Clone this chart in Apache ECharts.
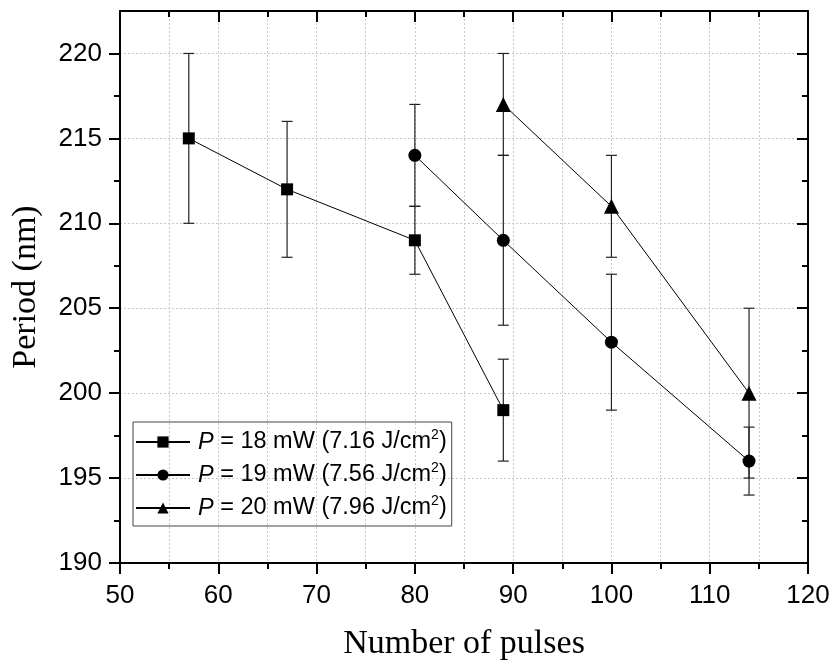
<!DOCTYPE html>
<html><head><meta charset="utf-8">
<script src="https://cdn.jsdelivr.net/npm/echarts@6/dist/echarts.min.js"></script>
<style>html,body{margin:0;padding:0;background:#fff}#c{width:833px;height:666px}</style>
</head><body><div id="c"></div>
<script>
// ---- data ----
const seriesNames = ['P = 18 mW (7.16 J/cm2)', 'P = 19 mW (7.56 J/cm2)', 'P = 20 mW (7.96 J/cm2)'];
const powers = ['18', '19', '20'];
const fluences = ['7.16', '7.56', '7.96'];
const pulses18 = [57, 67, 80, 89];
const period18 = [215, 212, 209, 199];
const low18 = [210, 208, 207, 196];
const high18 = [220, 216, 211, 202];
const pulses19 = [80, 89, 100, 114];
const period19 = [214, 209, 203, 196];
const low19 = [211, 204, 199, 194];
const high19 = [217, 214, 207, 198];
const pulses20 = [89, 100, 114];
const period20 = [217, 211, 200];
const low20 = [214, 208, 195];
const high20 = [220, 214, 205];
const xMajor = [50, 60, 70, 80, 90, 100, 110, 120];
const yMajor = [190, 195, 200, 205, 210, 215, 220];
const yMinor = [192.5, 197.5, 202.5, 207.5, 212.5, 217.5];

const pts = (xs, ys) => xs.map((x, i) => [x, ys[i]]);
const errs = (xs, lo, hi) => xs.map((x, i) => [x, lo[i], hi[i]]);

const chart = echarts.init(document.getElementById('c'), null, {renderer: 'canvas'});
const labelFont = {fontFamily: 'Liberation Sans', fontSize: 26, color: '#000'};
const gridLine = {show: true, lineStyle: {color: '#c8c8c8', width: 1, type: [2, 2]}};

function errRender(params, api) {
  const x = api.value(0);
  const lo = api.coord([x, api.value(1)]);
  const hi = api.coord([x, api.value(2)]);
  const w = 5.5;
  const st = {stroke: '#222', lineWidth: 1.2};
  return {type: 'group', children: [
    {type: 'line', shape: {x1: lo[0], y1: lo[1], x2: hi[0], y2: hi[1]}, style: st},
    {type: 'line', shape: {x1: lo[0] - w, y1: lo[1], x2: lo[0] + w, y2: lo[1]}, style: st},
    {type: 'line', shape: {x1: hi[0] - w, y1: hi[1], x2: hi[0] + w, y2: hi[1]}, style: st}
  ]};
}
function errSeries(data) {
  return {type: 'custom', renderItem: errRender, data: data, z: 1, silent: true,
    encode: {x: 0, y: [1, 2]}, xAxisIndex: 0, yAxisIndex: 0};
}
function lineSeries(name, data, symbol, size) {
  return {type: 'line', name: name, data: data, symbol: symbol, symbolSize: size,
    showAllSymbol: true, itemStyle: {color: '#000'}, lineStyle: {color: '#000', width: 1},
    z: 3, xAxisIndex: 0, yAxisIndex: 0, animation: false};
}

const option = {
  animation: false,
  grid: {left: 120, right: 25, top: 11, bottom: 101, containLabel: false},
  legend: {
    orient: 'vertical', left: 133, top: 422,
    data: seriesNames,
    borderColor: '#444', borderWidth: 1, padding: [6, 5, 4, 2],
    itemWidth: 54, itemHeight: 14, itemGap: 5,
    formatter: function (name) {
      const k = seriesNames.indexOf(name);
      return '{i|P} = ' + powers[k] + ' mW (' + fluences[k] + ' J/cm{s|2})';
    },
    textStyle: {fontFamily: 'Liberation Sans', fontSize: 23.5, color: '#000', lineHeight: 28, padding: [0, 0, 0, 3],
      rich: {
        i: {fontFamily: 'Liberation Sans', fontSize: 23.5, fontStyle: 'italic', color: '#000', lineHeight: 28},
        s: {fontFamily: 'Liberation Sans', fontSize: 14, color: '#000', verticalAlign: 'top', lineHeight: 14}
      }}
  },
  xAxis: [
    {type: 'value', position: 'bottom', min: 50, max: 120, interval: 10,
      name: 'Number of pulses', nameLocation: 'middle', nameGap: 64,
      nameTextStyle: {fontFamily: 'Liberation Serif', fontSize: 34, color: '#000'},
      axisLine: {show: true, onZero: false, lineStyle: {color: '#000', width: 2}},
      axisTick: {show: true, inside: false, length: 11, lineStyle: {color: '#000', width: 2}},
      minorTick: {show: true, splitNumber: 2, length: 6, lineStyle: {color: '#000', width: 2}},
      axisLabel: Object.assign({margin: 20}, labelFont),
      splitLine: gridLine,
      minorSplitLine: gridLine},
    {type: 'value', position: 'top', min: 50, max: 120, interval: 10,
      axisLine: {show: true, onZero: false, lineStyle: {color: '#000', width: 2}},
      axisTick: {show: true, inside: true, length: 11, lineStyle: {color: '#000', width: 2}},
      minorTick: {show: true, splitNumber: 2, length: 6, lineStyle: {color: '#000', width: 2}},
      axisLabel: {show: false}, splitLine: {show: false}}
  ],
  yAxis: [
    {type: 'value', position: 'left', min: 190, max: 222.5, interval: 2.5,
      name: 'Period (nm)', nameLocation: 'middle', nameGap: 77,
      nameTextStyle: {fontFamily: 'Liberation Serif', fontSize: 34, color: '#000'},
      axisLine: {show: true, onZero: false, lineStyle: {color: '#000', width: 2}},
      axisTick: {show: true, inside: false, length: 11, customValues: yMajor, lineStyle: {color: '#000', width: 2}},
      axisLabel: Object.assign({margin: 18, customValues: yMajor}, labelFont),
      splitLine: gridLine},
    {type: 'value', position: 'left', min: 190, max: 222.5, interval: 2.5,
      axisLine: {show: false},
      axisTick: {show: true, inside: false, length: 6, customValues: yMinor, lineStyle: {color: '#000', width: 2}},
      axisLabel: {show: false}, splitLine: {show: false}},
    {type: 'value', position: 'right', min: 190, max: 222.5, interval: 2.5,
      axisLine: {show: true, onZero: false, lineStyle: {color: '#000', width: 2}},
      axisTick: {show: true, inside: true, length: 11, customValues: yMajor, lineStyle: {color: '#000', width: 2}},
      axisLabel: {show: false}, splitLine: {show: false}},
    {type: 'value', position: 'right', min: 190, max: 222.5, interval: 2.5,
      axisLine: {show: false},
      axisTick: {show: true, inside: true, length: 6, customValues: yMinor, lineStyle: {color: '#000', width: 2}},
      axisLabel: {show: false}, splitLine: {show: false}}
  ],
  series: [
    errSeries(errs(pulses18, low18, high18)),
    errSeries(errs(pulses19, low19, high19)),
    errSeries(errs(pulses20, low20, high20)),
    lineSeries(seriesNames[0], pts(pulses18, period18), 'rect', 12),
    lineSeries(seriesNames[1], pts(pulses19, period19), 'circle', 13),
    lineSeries(seriesNames[2], pts(pulses20, period20), 'triangle', 15)
  ]
};
chart.setOption(option);
</script></body></html>
